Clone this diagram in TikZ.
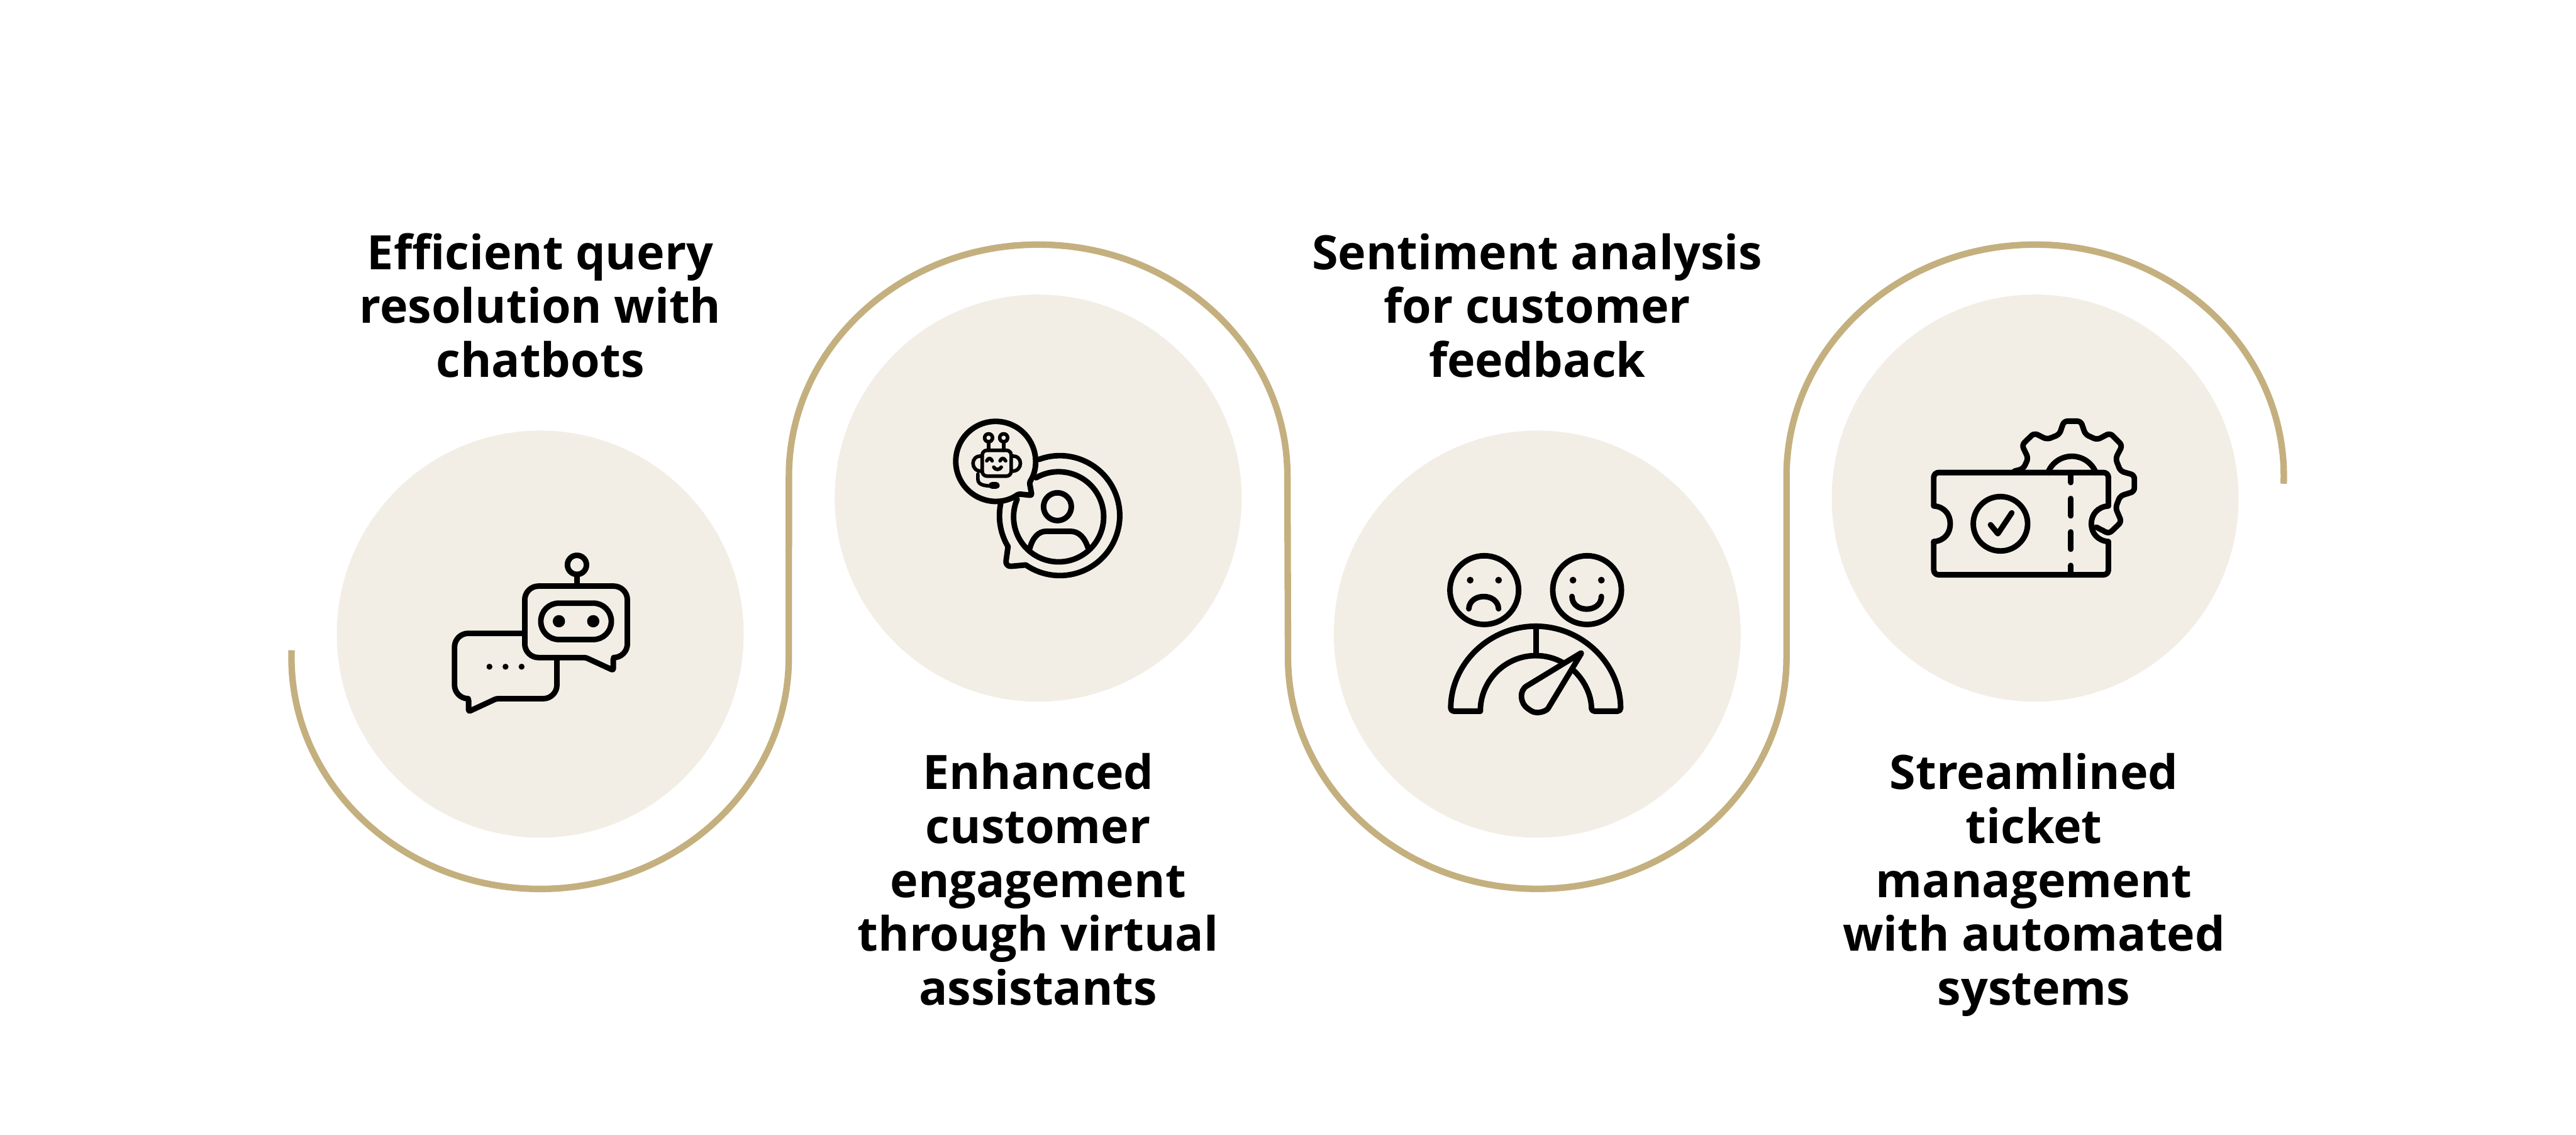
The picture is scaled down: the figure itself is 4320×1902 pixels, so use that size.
\documentclass[tikz,border=0pt]{standalone}
\usepackage{xcolor}
\usepackage{fontspec}
\setmainfont{Open Sans}
\definecolor{wavegold}{HTML}{C4B07F}
\definecolor{discbeige}{HTML}{F2EEE6}

\begin{document}
\begin{tikzpicture}[
    x=0.01cm, y=-0.01cm,
    disc/.style={circle, fill=discbeige, minimum size=6.82cm, inner sep=0pt},
    label/.style={font=\fontsize{22.6}{25.7}\selectfont\bfseries, align=center, inner sep=0pt},
    wave/.style={draw=wavegold, line width=3.1pt},
    icon/.style={x=0.00333cm, y=-0.00333cm, line width=2.65pt, line join=round, line cap=round}
]
\useasboundingbox (0,0) rectangle (4320,1902);

% Discs
\node[disc] (discquery) at (906,1063) {};
\node[disc] (discassist) at (1741,835) {};
\node[disc] (discsentiment) at (2578,1063) {};
\node[disc] (discticket) at (3413,835) {};

% Wave
\draw[wave] (489,1090) arc[start angle=181.8, end angle=0, x radius=417, y radius=388]
  -- (1323,798) arc[start angle=180, end angle=360, x radius=418, y radius=388]
  -- (2160,1102) arc[start angle=180, end angle=0, x radius=418, y radius=388]
  -- (2996,798) arc[start angle=180, end angle=361.9, x radius=417, y radius=388];

% Labels
\node[label] (txtquery) at (906,524) {\strut Efficient query\\resolution with\\chatbots\strut};
\node[label] (txtassist) at (1741,1486) {\strut Enhanced\\customer\\engagement\\through virtual\\assistants\strut};
\node[label] (txtsentiment) at (2578,524) {\strut Sentiment analysis\\for customer\\feedback\strut};
\node[label] (txtticket) at (3411,1486) {\strut Streamlined\\ticket\\management\\with automated\\systems\strut};

% Chat icon
\begin{scope}[shift={(700,880)}, icon]
  \draw (804,201) circle (48);
  \draw (804,250) -- (804,308);
  \draw[rounded corners=0.23cm] (800,308) -- (1058,308) -- (1058,668)
    [rounded corners=0.03cm] -- (987,668) -- (987,732) -- (848,668)
    [rounded corners=0.23cm] -- (541,668) -- (541,308) -- cycle;
  \draw[rounded corners=0.3cm] (800,394) -- (977,394) -- (977,577) -- (622,577) -- (622,394) -- cycle;
  \fill (713,485) circle (31) (886,485) circle (31);
  \draw[rounded corners=0.23cm] (541,546) -- (187,546) -- (187,875)
    [rounded corners=0.03cm] -- (258,875) -- (258,940) -- (398,875)
    [rounded corners=0.23cm] -- (703,875) -- (703,668);
  \fill (363,714) circle (15) (444,714) circle (15) (525,714) circle (15);
\end{scope}

% Assistant icon
\begin{scope}[shift={(1560,660)}, icon]
  \draw[rounded corners=0.03cm] (445,505) arc[start angle=55, end angle=392, radius=201] -- (512,512) -- cycle;
  \draw (653,614) ++(249.5:302) arc[start angle=249.5, end angle=484.6, radius=302]
    [rounded corners=0.1cm] -- (378,872) -- (392,770);
  \draw (392,770) arc[start angle=149, end angle=191.6, radius=302];
  \draw (647,620) ++(240:227) arc[start angle=240, end angle=563, radius=227];
  \draw (641,569) circle (70);
  \draw (500,785) .. controls (515,725) and (545,693) .. (585,693) -- (705,693) .. controls (750,693) and (780,725) .. (798,785);
  \begin{scope}[line width=1.7pt]
    \draw (294,222) circle (20) (370,222) circle (20);
    \draw (294,243) -- (294,285) (370,243) -- (370,285);
    \draw[rounded corners=0.08cm] (262,285) rectangle (408,415);
    \draw (262,315) .. controls (200,305) and (200,395) .. (262,390);
    \draw (408,315) .. controls (470,305) and (470,395) .. (408,390);
    \draw (240,405) -- (240,428) .. controls (240,455) and (260,465) .. (320,465);
    \draw[line width=3.4pt] (312,462) -- (332,462);
    \draw (285,338) .. controls (292,322) and (305,322) .. (312,338);
    \draw (352,338) .. controls (359,322) and (372,322) .. (380,338);
    \draw (320,370) .. controls (328,385) and (350,385) .. (358,370);
  \end{scope}
\end{scope}

% Sentiment icon
\begin{scope}[shift={(2380,900)}, icon]
  \draw (328,268) circle (173) (846,268) circle (173);
  \fill (257,218) circle (17) (400,218) circle (17) (775,218) circle (17) (918,218) circle (17);
  \draw (250,362) .. controls (255,280) and (395,280) .. (400,362);
  \draw (770,300) .. controls (770,385) and (918,385) .. (918,300);
  \draw (308,878) arc[start angle=180, end angle=299, radius=280];
  \draw[rounded corners=0.05cm] (588,878) ++(313.3:280) arc[start angle=313.3, end angle=360, radius=280] -- (1015,878) arc[start angle=0, end angle=-180, radius=428] -- (308,878);
  \draw (588,450) -- (588,598);
  \draw[rounded corners=0.03cm] (820,582) -- (552,745) .. controls (500,775) and (510,840) .. (555,870)
    .. controls (590,895) and (640,880) .. (655,855) -- cycle;
\end{scope}

% Ticket icon
\begin{scope}[shift={(3200,680)}, icon]
  \draw[rounded corners=0.06cm] (535,330) -- (580,318) -- (605,265) -- (573,198) -- (635,138) -- (700,170) -- (762,145)
    -- (785,78) -- (870,78) -- (893,145) -- (952,172) -- (1017,138) -- (1079,200) -- (1045,267) -- (1070,330)
    -- (1140,350) -- (1140,432) -- (1068,455) -- (1045,515) -- (1075,585) -- (1012,645) -- (948,612);
  \draw (825,385) ++(201.6:130) arc[start angle=201.6, end angle=338.4, radius=130];
  \draw[rounded corners=0.08cm] (129,505) -- (129,337) -- (1009,337) -- (1009,505);
  \draw[rounded corners=0.08cm] (129,685) -- (129,852) -- (1009,852) -- (1009,685);
  \draw (129,505) .. controls (185,510) and (212,550) .. (212,595) .. controls (212,640) and (185,680) .. (129,685);
  \draw (1009,505) .. controls (953,510) and (923,550) .. (923,595) .. controls (923,640) and (953,680) .. (1009,685);
  \draw (820,337) -- (820,387) (820,468) -- (820,555) (820,636) -- (820,723) (820,805) -- (820,852);
  \draw (465,595) circle (137);
  \draw (415,600) -- (452,645) -- (522,540);
\end{scope}
\end{tikzpicture}
\end{document}
